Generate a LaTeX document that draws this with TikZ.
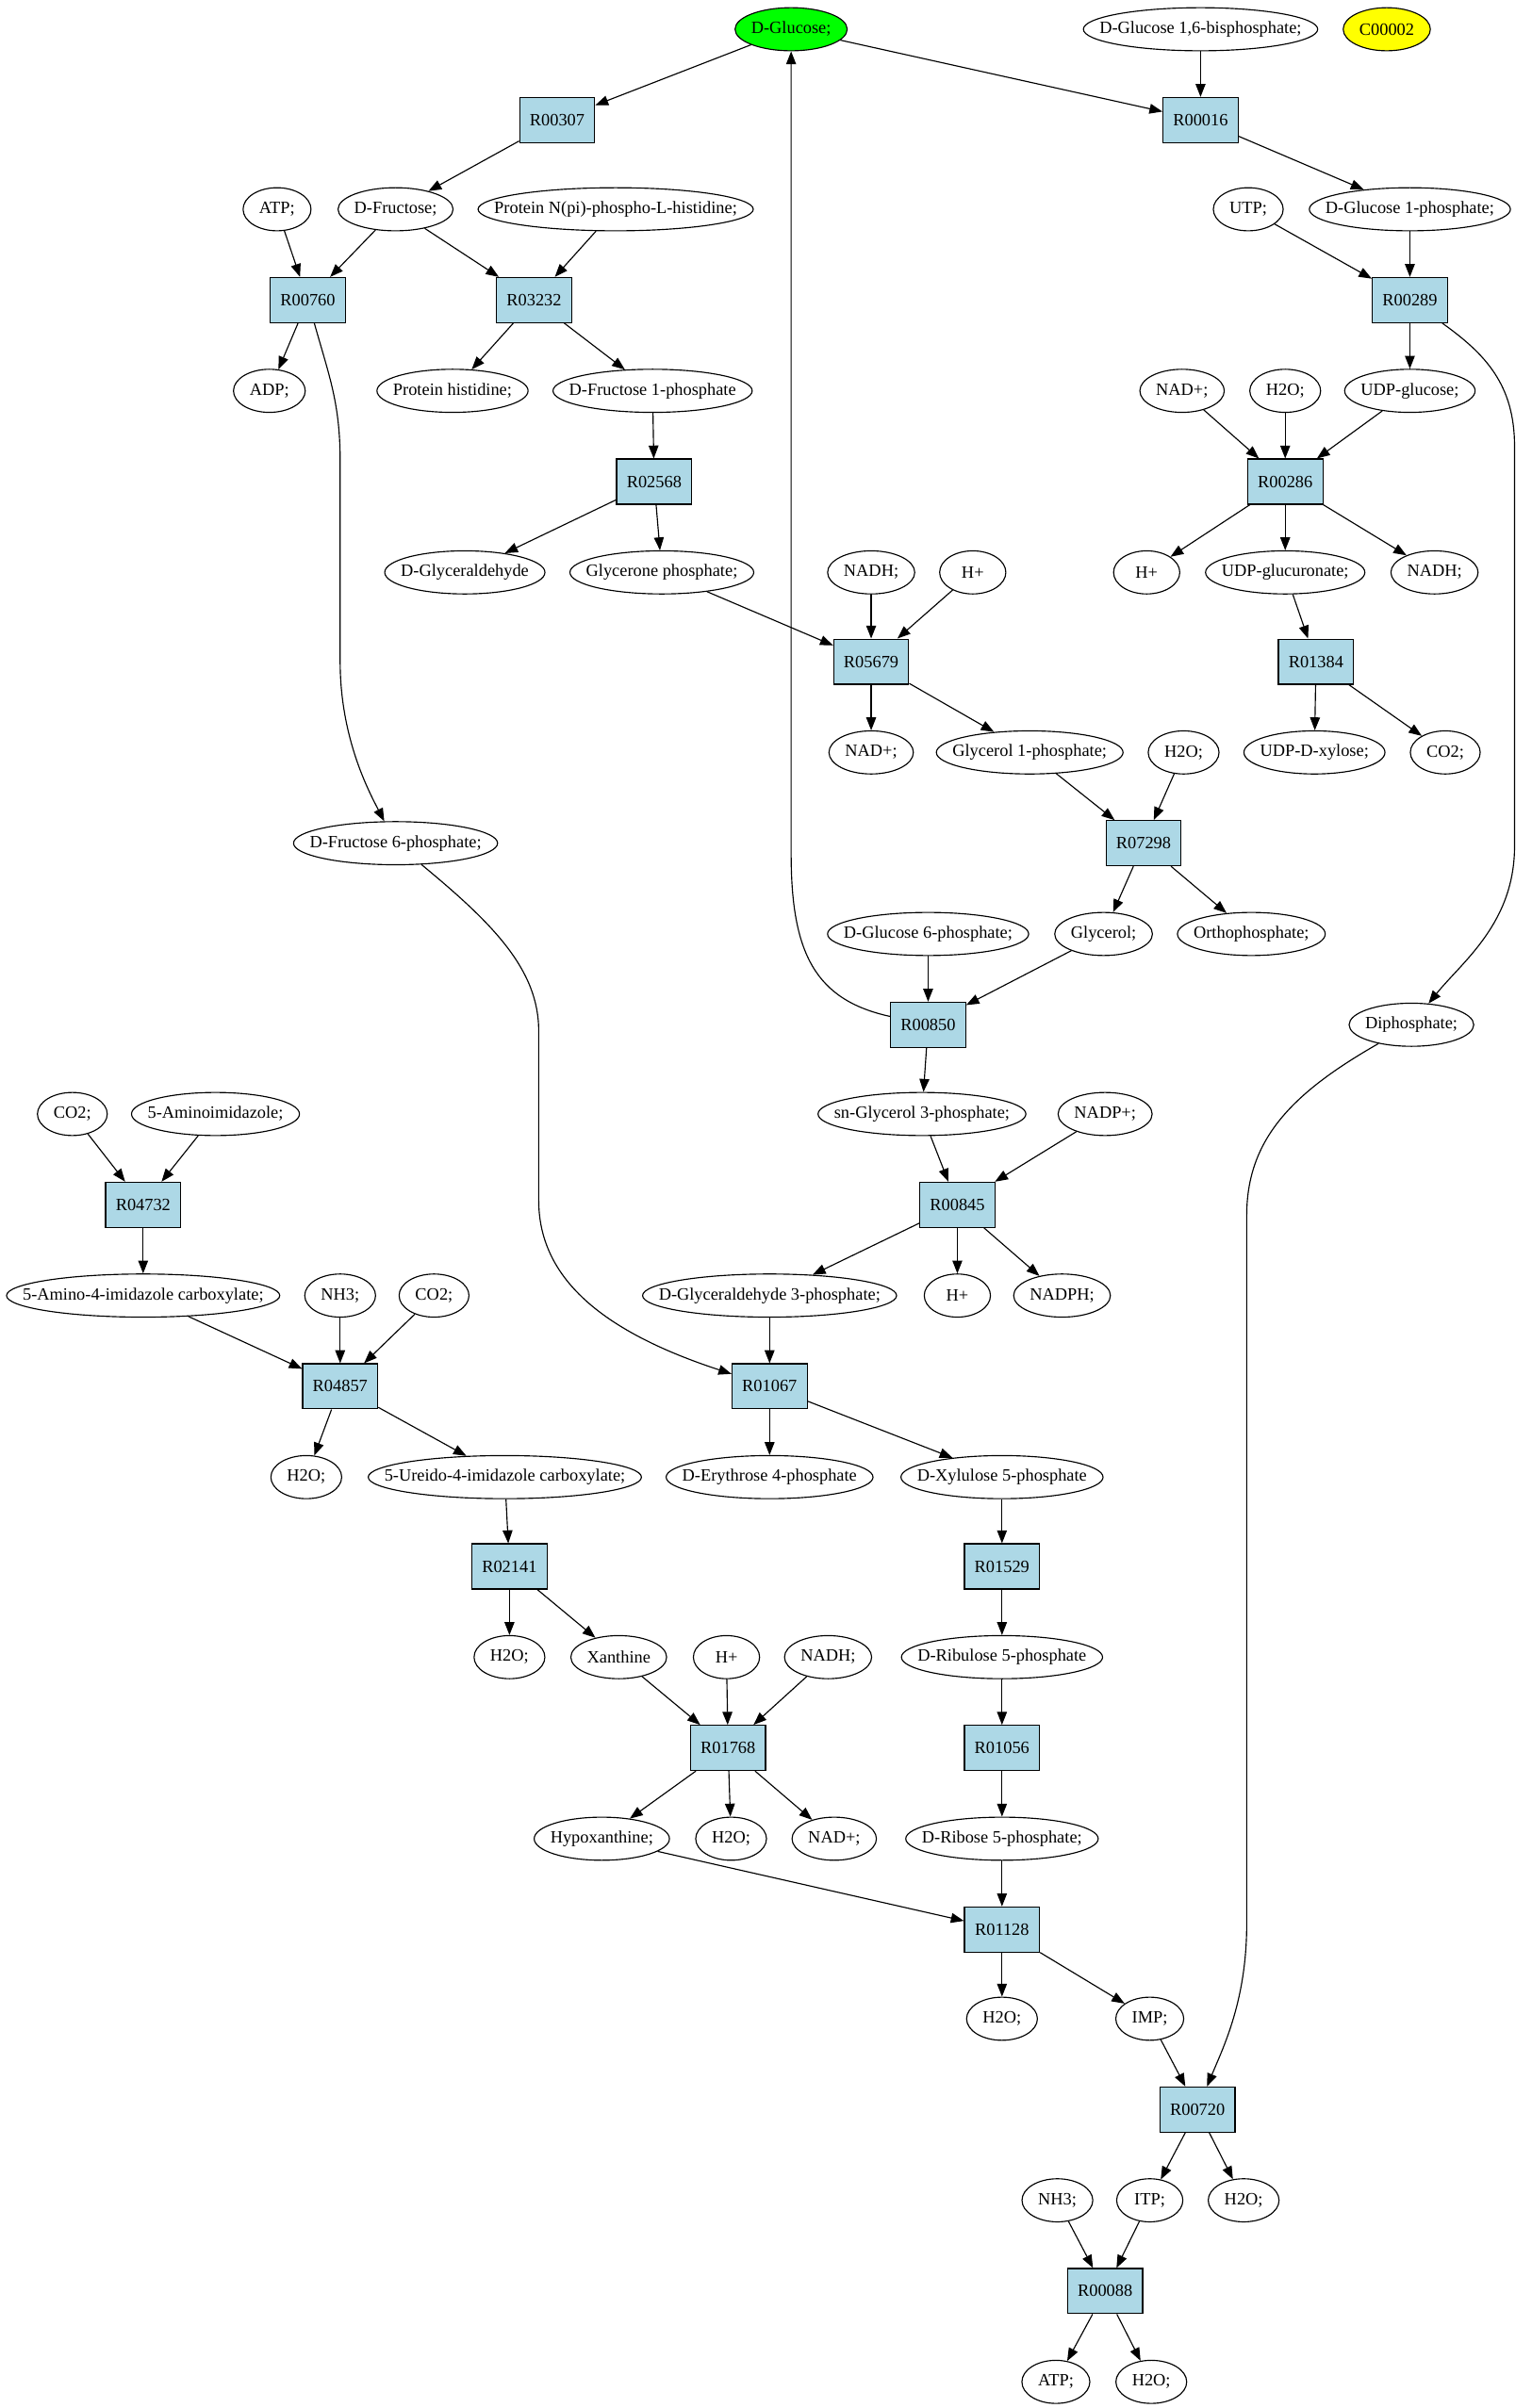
\documentclass[tikz,border=0pt]{standalone}
\usepackage{fontspec}
\setmainfont{Liberation Serif}
\usetikzlibrary{shapes.geometric,arrows.meta}
\definecolor{rxnblue}{HTML}{ADD8E6}
\definecolor{start}{HTML}{00FF00}
\definecolor{lone}{HTML}{FFFF00}

\begin{document}
\begin{tikzpicture}[x=0.025cm,y=-0.025cm,
    font=\fontsize{8}{9.6}\selectfont,
    rxn/.style={draw,fill=rxnblue,minimum width=1.22cm,minimum height=0.733cm,inner sep=0pt,line width=0.5pt},
    cpd/.style={ellipse,draw,minimum width=1.075cm,minimum height=0.7cm,inner ysep=1pt,
      inner xsep={5.28pt-0.1464*\wd\pgfnodeparttextbox},line width=0.5pt},
    link/.style={-{Triangle[length=0.21cm,width=0.16cm]},line width=0.5pt}]
      \useasboundingbox (0,0) rectangle (995,1565);

      \path
      (514,19) node[cpd,fill=start](glc) {D-Glucose;}
      (780,19) node[cpd](g16bp) {D-Glucose 1,6-bisphosphate;}
      (901,19) node[cpd,fill=lone](c2) {C00002}
      (362,78) node[rxn](r00307) {R00307}
      (780,78) node[rxn](r00016) {R00016}
      (180,136) node[cpd](atp) {ATP;}
      (257,136) node[cpd](fru) {D-Fructose;}
      (400,136) node[cpd](phis) {Protein N(pi)-phospho-L-histidine;}
      (811,136) node[cpd](utp) {UTP;}
      (916,136) node[cpd](g1p) {D-Glucose 1-phosphate;}
      (200,195) node[rxn](r00760) {R00760}
      (347,195) node[rxn](r03232) {R03232}
      (916,195) node[rxn](r00289) {R00289}
      (175,254) node[cpd](adp) {ADP;}
      (294,254) node[cpd](prohis) {Protein histidine;}
      (424,254) node[cpd](f1p) {D-Fructose 1-phosphate}
      (768,254) node[cpd](nad4) {NAD+;}
      (835,254) node[cpd](h2o4) {H2O;}
      (916,254) node[cpd](udpglc) {UDP-glucose;}
      (425,313) node[rxn](r02568) {R02568}
      (835,313) node[rxn](r00286) {R00286}
      ;

      \path
      (302,372) node[cpd](glyald) {D-Glyceraldehyde}
      (430,372) node[cpd](dhap) {Glycerone phosphate;}
      (566,372) node[cpd](nadh6) {NADH;}
      (632,372) node[cpd](hp6) {H+}
      (745,372) node[cpd](hp6b) {H+}
      (835,372) node[cpd](udpgla) {UDP-glucuronate;}
      (932,372) node[cpd](nadh6b) {NADH;}
      (566,430) node[rxn](r05679) {R05679}
      (855,430) node[rxn](r01384) {R01384}
      (566,489) node[cpd](nad8) {NAD+;}
      (669,489) node[cpd](gly1p) {Glycerol 1-phosphate;}
      (769,489) node[cpd](h2o8) {H2O;}
      (854,489) node[cpd](udpxyl) {UDP-D-xylose;}
      (939,489) node[cpd](co2b) {CO2;}
      (257,548) node[cpd](fru6p) {D-Fructose 6-phosphate;}
      (743,548) node[rxn](r07298) {R07298}
      (603,607) node[cpd](g6p) {D-Glucose 6-phosphate;}
      (717,607) node[cpd](glyc) {Glycerol;}
      (813,607) node[cpd](pi) {Orthophosphate;}
      (603,666) node[rxn](r00850) {R00850}
      (917,666) node[cpd](dip) {Diphosphate;}
      ;

      \path
      (47,724) node[cpd](co2c) {CO2;}
      (140,724) node[cpd](aimz) {5-Aminoimidazole;}
      (599,724) node[cpd](g3p) {sn-Glycerol 3-phosphate;}
      (718,724) node[cpd](nadpp) {NADP+;}
      (93,783) node[rxn](r04732) {R04732}
      (622,783) node[rxn](r00845) {R00845}
      (93,842) node[cpd](aicx) {5-Amino-4-imidazole carboxylate;}
      (221,842) node[cpd](nh3a) {NH3;}
      (282,842) node[cpd](co2d) {CO2;}
      (500,842) node[cpd](gap) {D-Glyceraldehyde 3-phosphate;}
      (622,842) node[cpd](hp14) {H+}
      (690,842) node[cpd](nadph) {NADPH;}
      (221,901) node[rxn](r04857) {R04857}
      (500,901) node[rxn](r01067) {R01067}
      (199,960) node[cpd](h2o16) {H2O;}
      (328,960) node[cpd](uicx) {5-Ureido-4-imidazole carboxylate;}
      (500,960) node[cpd](e4p) {D-Erythrose 4-phosphate}
      (651,960) node[cpd](xu5p) {D-Xylulose 5-phosphate}
      (331,1018) node[rxn](r02141) {R02141}
      (651,1018) node[rxn](r01529) {R01529}
      ;

      \path
      (331,1077) node[cpd](h2o18) {H2O;}
      (402,1077) node[cpd](xan) {Xanthine}
      (472,1077) node[cpd](hp18) {H+}
      (538,1077) node[cpd](nadh18) {NADH;}
      (651,1077) node[cpd](ru5p) {D-Ribulose 5-phosphate}
      (473,1136) node[rxn](r01768) {R01768}
      (651,1136) node[rxn](r01056) {R01056}
      (391,1195) node[cpd](hyp) {Hypoxanthine;}
      (475,1195) node[cpd](h2o20) {H2O;}
      (542,1195) node[cpd](nad20) {NAD+;}
      (651,1195) node[cpd](r5p) {D-Ribose 5-phosphate;}
      (651,1254) node[rxn](r01128) {R01128}
      (651,1312) node[cpd](h2o22) {H2O;}
      (747,1312) node[cpd](imp) {IMP;}
      (778,1371) node[rxn](r00720) {R00720}
      (687,1430) node[cpd](nh3b) {NH3;}
      (747,1430) node[cpd](itp) {ITP;}
      (808,1430) node[cpd](h2o24) {H2O;}
      (718,1489) node[rxn](r00088) {R00088}
      (686,1548) node[cpd](atp26) {ATP;}
      (748,1548) node[cpd](h2o26) {H2O;}
      ;

      % top part
      \draw[link] (glc) -- (r00307);
      \draw[link] (glc) -- (r00016);
      \draw[link] (g16bp) -- (r00016);
      \draw[link] (r00307) -- (fru);
      \draw[link] (r00016) -- (g1p);
      \draw[link] (atp) -- (r00760);
      \draw[link] (fru) -- (r00760);
      \draw[link] (fru) -- (r03232);
      \draw[link] (phis) -- (r03232);
      \draw[link] (utp) -- (r00289);
      \draw[link] (g1p) -- (r00289);
      \draw[link] (r00760) -- (adp);
      \draw[link] (r03232) -- (prohis);
      \draw[link] (r03232) -- (f1p);
      \draw[link] (r00289) -- (udpglc);
      \draw[link] (f1p) -- (r02568);
      \draw[link] (nad4) -- (r00286);
      \draw[link] (h2o4) -- (r00286);
      \draw[link] (udpglc) -- (r00286);
      \draw[link] (r02568) -- (glyald);
      \draw[link] (r02568) -- (dhap);
      \draw[link] (r00286) -- (hp6b);
      \draw[link] (r00286) -- (udpgla);
      \draw[link] (r00286) -- (nadh6b);

      % middle
      \draw[link] (dhap) -- (r05679);
      \draw[link] (nadh6) -- (r05679);
      \draw[link] (hp6) -- (r05679);
      \draw[link] (udpgla) -- (r01384);
      \draw[link] (r05679) -- (nad8);
      \draw[link] (r05679) -- (gly1p);
      \draw[link] (r01384) -- (udpxyl);
      \draw[link] (r01384) -- (co2b);
      \draw[link] (gly1p) -- (r07298);
      \draw[link] (h2o8) -- (r07298);
      \draw[link] (r07298) -- (glyc);
      \draw[link] (r07298) -- (pi);
      \draw[link] (g6p) -- (r00850);
      \draw[link] (glyc) -- (r00850);
      \draw[link] (r00850) -- (g3p);
      \draw[link] (g3p) -- (r00845);
      \draw[link] (nadpp) -- (r00845);
      \draw[link] (r00845) -- (gap);
      \draw[link] (r00845) -- (hp14);
      \draw[link] (r00845) -- (nadph);
      \draw[link] (gap) -- (r01067);
      \draw[link] (r01067) -- (e4p);
      \draw[link] (r01067) -- (xu5p);

      % left branch
      \draw[link] (co2c) -- (r04732);
      \draw[link] (aimz) -- (r04732);
      \draw[link] (r04732) -- (aicx);
      \draw[link] (aicx) -- (r04857);
      \draw[link] (nh3a) -- (r04857);
      \draw[link] (co2d) -- (r04857);
      \draw[link] (r04857) -- (h2o16);
      \draw[link] (r04857) -- (uicx);
      \draw[link] (uicx) -- (r02141);
      \draw[link] (r02141) -- (h2o18);
      \draw[link] (r02141) -- (xan);
      \draw[link] (xan) -- (r01768);
      \draw[link] (hp18) -- (r01768);
      \draw[link] (nadh18) -- (r01768);
      \draw[link] (r01768) -- (hyp);
      \draw[link] (r01768) -- (h2o20);
      \draw[link] (r01768) -- (nad20);

      % bottom
      \draw[link] (xu5p) -- (r01529);
      \draw[link] (r01529) -- (ru5p);
      \draw[link] (ru5p) -- (r01056);
      \draw[link] (r01056) -- (r5p);
      \draw[link] (hyp) -- (r01128);
      \draw[link] (r5p) -- (r01128);
      \draw[link] (r01128) -- (h2o22);
      \draw[link] (r01128) -- (imp);
      \draw[link] (imp) -- (r00720);
      \draw[link] (r00720) -- (itp);
      \draw[link] (r00720) -- (h2o24);
      \draw[link] (nh3b) -- (r00088);
      \draw[link] (itp) -- (r00088);
      \draw[link] (r00088) -- (atp26);
      \draw[link] (r00088) -- (h2o26);

      % long curved ones
      \draw[link] (r00760) .. controls (214,245) and (221,262) .. (221,300) -- (221,430)
        .. controls (221,480) and (240,515) .. (fru6p);
      \draw[link] (fru6p) .. controls (320,600) and (350,630) .. (350,670) -- (350,780)
        .. controls (350,830) and (390,865) .. (r01067);
      \draw[link] (r00850) .. controls (530,650) and (514,620) .. (514,555) -- (glc);
      \draw[link] (r00289) .. controls (965,230) and (984,250) .. (984,290) -- (984,550)
        .. controls (984,600) and (950,625) .. (dip);
      \draw[link] (dip) .. controls (840,710) and (810,740) .. (810,790) -- (810,1250)
        .. controls (810,1300) and (795,1330) .. (r00720);
    \end{tikzpicture}
\end{document}
